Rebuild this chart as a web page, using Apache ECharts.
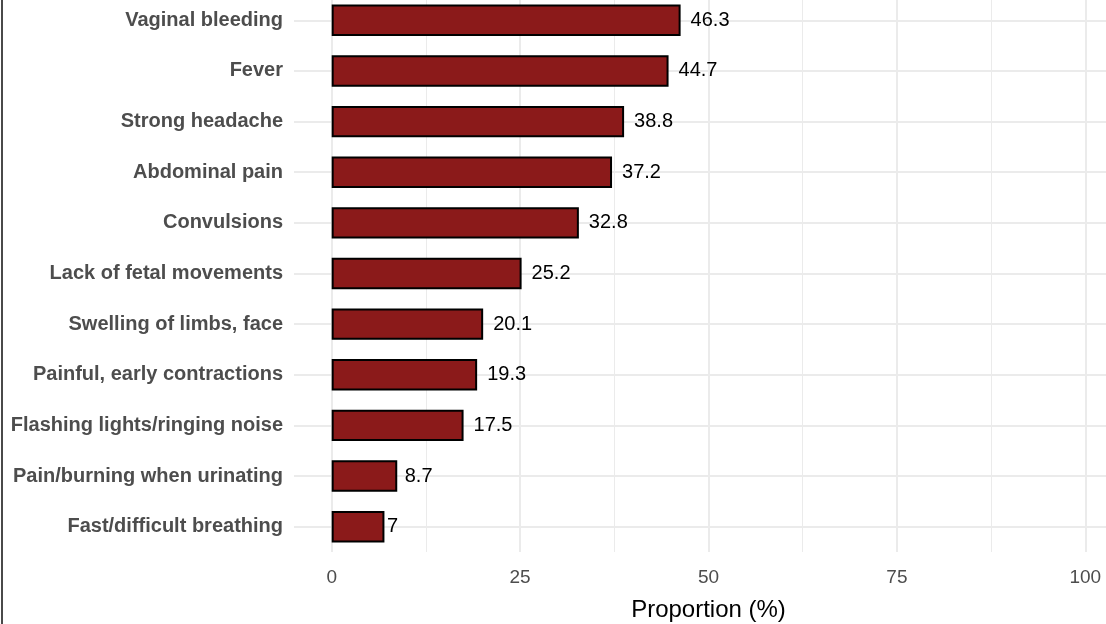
<!DOCTYPE html>
<html>
<head>
<meta charset="utf-8">
<script src="https://cdn.jsdelivr.net/npm/echarts@6/dist/echarts.min.js"></script>
<style>
  body { margin: 0; background: #fff; }
  #wrap { position: relative; width: 1106px; height: 624px; overflow: hidden; }
  /* the panel runs past the picture's top and right edges, so the chart box does too */
  #myBarChart { position: absolute; left: 0; top: -5px; width: 1123px; height: 629px; }
  #edge { position: absolute; left: 1px; top: 0; width: 2px; height: 624px; background: #4a4a4a; }
</style>
</head>
<body>
<div id="wrap">
  <div id="myBarChart"></div>
  <div id="edge"></div>
</div>
<script>
// symptoms, top to bottom
const symptoms = [
  'Vaginal bleeding',
  'Fever',
  'Strong headache',
  'Abdominal pain',
  'Convulsions',
  'Lack of fetal movements',
  'Swelling of limbs, face',
  'Painful, early contractions',
  'Flashing lights/ringing noise',
  'Pain/burning when urinating',
  'Fast/difficult breathing'
];
const proportion = [46.3, 44.7, 38.8, 37.2, 32.8, 25.2, 20.1, 19.3, 17.5, 8.7, 7];
const majorTicks = [0, 25, 50, 75, 100];
const minorTicks = [12.5, 37.5, 62.5, 87.5];

const font = 'Liberation Sans, Arial, sans-serif';

let option = {
  animation: false,
  backgroundColor: '#fff',
  grid: {
    left: 294,
    right: 0,
    top: 0,
    bottom: 72,
    outerBoundsMode: 'none'
  },
  xAxis: {
    type: 'value',
    min: -5,
    max: 105,
    name: 'Proportion (%)',
    nameLocation: 'middle',
    nameGap: 46,
    nameTextStyle: { color: '#000', fontSize: 24, fontFamily: font },
    axisLine: { show: false },
    axisTick: { show: false, customValues: majorTicks },
    axisLabel: {
      customValues: majorTicks,
      color: '#4d4d4d',
      fontSize: 19,
      fontFamily: font,
      margin: 16
    },
    splitLine: { show: true, lineStyle: { color: '#ebebeb', width: 2 } }
  },
  yAxis: {
    type: 'category',
    inverse: true,
    data: symptoms,
    axisLine: { show: false, onZero: false },
    axisTick: { show: false },
    splitLine: { show: false },
    axisLabel: {
      color: '#4d4d4d',
      fontSize: 20,
      fontWeight: 'bold',
      fontFamily: font,
      margin: 11
    }
  },
  series: [
    {
      type: 'bar',
      barWidth: '62%',
      z: 3,
      itemStyle: { color: '#8B1A1A', borderColor: '#000', borderWidth: 2 },
      data: proportion.map(v => ({
        value: v,
        label: { distance: String(v).length * 2.5 }
      })),
      label: {
        show: true,
        position: 'right',
        color: '#000',
        fontSize: 20,
        fontFamily: font
      },
      markLine: {
        silent: true,
        symbol: 'none',
        z: 1,
        label: { show: false },
        data: symptoms.map(s => ({ yAxis: s, lineStyle: { color: '#ebebeb', width: 2, type: 'solid' } }))
          .concat(minorTicks.map(t => ({ xAxis: t, lineStyle: { color: '#ebebeb', width: 1, type: 'solid' } })))
      }
    }
  ]
};

let myChart = echarts.init(document.querySelector('#myBarChart'), null, { renderer: 'canvas' });
myChart.setOption(option);
</script>
</body>
</html>
